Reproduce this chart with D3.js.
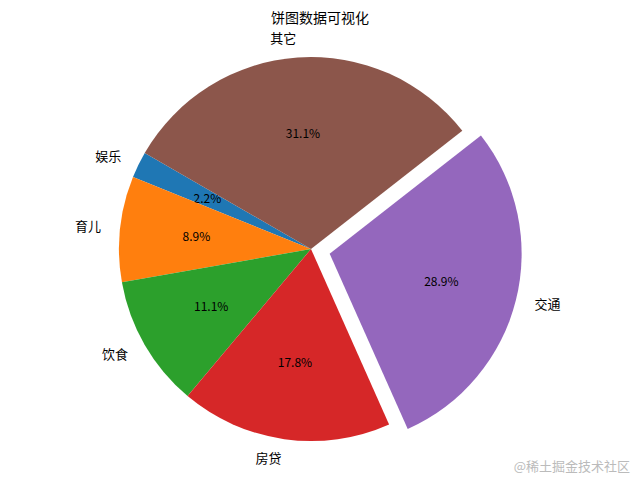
<!DOCTYPE html>
<html><head><meta charset="utf-8">
<script src="https://cdn.jsdelivr.net/npm/d3@7"></script>
<style>body{margin:0;background:#fff}text{font-family:"Noto Sans CJK SC",sans-serif}</style>
</head><body>
<svg id="chart" width="640" height="480"></svg>
<script>
const categories = ["娱乐", "育儿", "饮食", "房贷", "交通", "其它"];
const values = [1, 4, 5, 8, 13, 14];
const explode = [0, 0, 0, 0, 0.1, 0];
const colors = ["#1f77b4", "#ff7f0e", "#2ca02c", "#d62728", "#9467bd", "#8c564b"];

const svg = d3.select("#chart");
const cx = 311, cy = 249, r = 192;
const rad = d => d * Math.PI / 180;
const startAngle = 150; // matplotlib-style, counterclockwise

const pie = d3.pie().sort(null)
  .startAngle(rad(90 - startAngle))
  .endAngle(rad(90 - startAngle - 360));
const arcs = pie(values);
const arc = d3.arc().innerRadius(0).outerRadius(r);
const total = d3.sum(values);

const g = svg.append("g").attr("transform", `translate(${cx},${cy})`);
// position along mid angle (d3 angle: clockwise from 12 o'clock)
const pt = (a, k) => [Math.sin(a) * r * k, -Math.cos(a) * r * k];

arcs.forEach((d, i) => {
  const mid = (d.startAngle + d.endAngle) / 2;
  const [ox, oy] = pt(mid, explode[i]);
  const wg = g.append("g").attr("transform", `translate(${ox},${oy})`);
  wg.append("path").attr("d", arc(d)).attr("fill", colors[i]);
  const [lx, ly] = pt(mid, 1.1);
  wg.append("text").attr("x", lx).attr("y", ly).attr("dy", "0.35em")
    .attr("text-anchor", lx > 0 ? "start" : "end")
    .attr("font-size", 13).text(categories[i]);
  const [px, py] = pt(mid, 0.6);
  wg.append("text").attr("x", px).attr("y", py).attr("dy", "0.35em")
    .attr("text-anchor", "middle").attr("font-size", 12)
    .text((values[i] / total * 100).toFixed(1) + "%");
});

svg.append("text").attr("x", 320).attr("y", 23).attr("text-anchor", "middle")
  .attr("font-size", 14).text("饼图数据可视化");
svg.append("text").attr("x", 630).attr("y", 471).attr("text-anchor", "end")
  .attr("font-size", 13).attr("fill", "#bbb").text("@稀土掘金技术社区");
</script>
</body></html>
